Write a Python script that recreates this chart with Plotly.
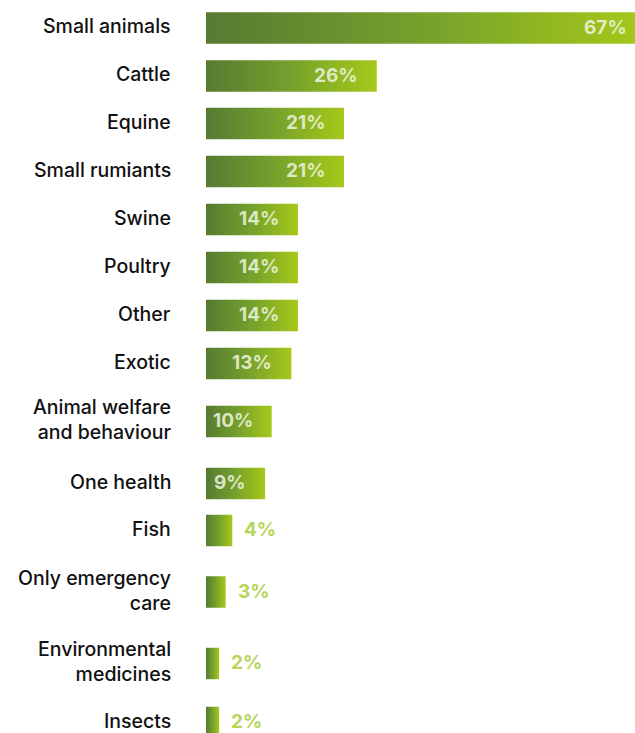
import plotly.graph_objects as go

# Share of respondents by area of practice
categories = [
    "Small animals", "Cattle", "Equine", "Small rumiants", "Swine", "Poultry",
    "Other", "Exotic", "Animal welfare<br>and behaviour", "One health", "Fish",
    "Only emergency<br>care", "Environmental<br>medicines", "Insects",
]
values = [67, 26, 21, 21, 14, 14, 14, 13, 10, 9, 4, 3, 2, 2]

# Row centres in pixels from the top (two-line rows get more room)
row_y = [28, 76, 123.5, 171.5, 219.5, 267.5, 315.5, 363.5, 421.5, 483.5, 530.5, 592, 663.5, 722.5]
BAR_H = 31.5
X_MAX = 65.3          # axis end; the largest bar runs past the edge
OUTSIDE_BELOW = 5     # values under this get their label outside the bar

GRADIENT = [[0, "#577a32"], [0.5, "#76a12b"], [1, "#a6c91a"]]

fig = go.Figure()

for v, yc in zip(values, row_y):
    y0, y1 = yc - BAR_H / 2, yc + BAR_H / 2
    fig.add_trace(go.Scatter(
        x=[0, v, v, 0, 0], y=[y0, y0, y1, y1, y0],
        mode="lines", line=dict(width=0),
        fill="toself",
        fillgradient=dict(type="horizontal", colorscale=GRADIENT, start=0, stop=v),
        hoverinfo="skip", showlegend=False,
    ))

for cat, v, yc in zip(categories, values, row_y):
    fig.add_annotation(
        x=0, xref="paper", y=yc, yref="y", text=cat,
        xanchor="right", yanchor="middle", align="right",
        xshift=-33, yshift=2,
        showarrow=False,
        font=dict(family="Inter", size=19.5, color="#111111", weight=500),
    )
    inside = v >= OUTSIDE_BELOW
    fig.add_annotation(
        x=v / X_MAX, xref="paper", y=yc, yref="y", text=f"{v}%",
        xanchor="right" if inside else "left", yanchor="middle",
        xshift=-17 if inside else 10, yshift=1,
        showarrow=False,
        font=dict(family="Inter", size=19, weight=700,
                  color="rgba(240,245,225,0.85)" if inside else "#b6d55a"),
    )

fig.update_layout(
    width=635, height=733,
    margin=dict(l=206, r=0, t=0, b=0),
    paper_bgcolor="white", plot_bgcolor="white",
    xaxis=dict(range=[0, X_MAX], visible=False, fixedrange=True),
    yaxis=dict(range=[733, 0], visible=False, fixedrange=True),
)

fig.write_html("out.html")
